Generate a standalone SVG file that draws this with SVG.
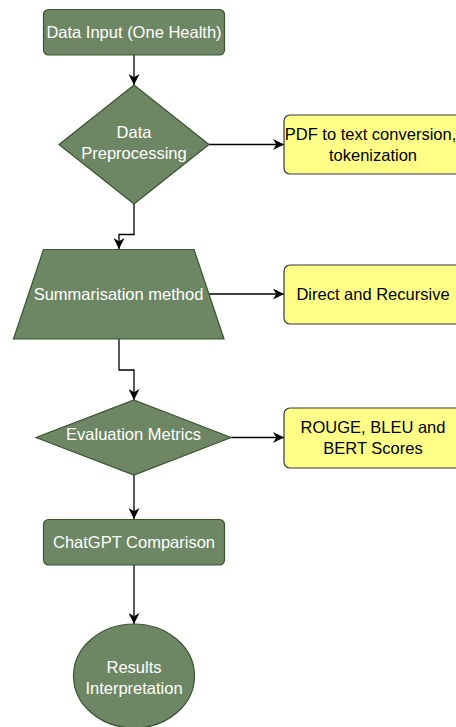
<svg xmlns="http://www.w3.org/2000/svg" width="456" height="727" viewBox="0 0 456 727">
<style>
.g{fill:#6d8764;stroke:#3a5431;stroke-width:1.2}
.y{fill:#ffff88;stroke:#36393d;stroke-width:1.2}
.tw{font-family:"Liberation Sans",Arial,Helvetica,sans-serif;font-size:16.5px;fill:#ffffff;text-anchor:middle}
.tb{font-family:"Liberation Sans",Arial,Helvetica,sans-serif;font-size:16.5px;fill:#000000;text-anchor:middle}
.c{fill:none;stroke:#000;stroke-width:1.3}
</style>
<defs>
<marker id="arr" markerUnits="userSpaceOnUse" markerWidth="11" markerHeight="11" viewBox="0 0 10 10" refX="10" refY="5" orient="auto">
<path d="M0,0 L10,5 L0,10 L3,5 Z" fill="#000"/>
</marker>
</defs>
<rect width="456" height="727" fill="#ffffff"/>
<g id="connectors">
<path class="c" d="M134,55 V85" marker-end="url(#arr)"/>
<path class="c" d="M209,144.5 H284" marker-end="url(#arr)"/>
<path class="c" d="M134,204 V234.5 H119 V249" marker-end="url(#arr)"/>
<path class="c" d="M209,294 H284" marker-end="url(#arr)"/>
<path class="c" d="M119,339 V370 H134 V400" marker-end="url(#arr)"/>
<path class="c" d="M231,437.5 H284" marker-end="url(#arr)"/>
<path class="c" d="M134,475 V519" marker-end="url(#arr)"/>
<path class="c" d="M134,565 V624" marker-end="url(#arr)"/>
</g>
<g id="data-input">
<rect class="g" x="43.5" y="9.5" width="181" height="45.5" rx="5"/>
<text class="tw" x="134" y="38">Data Input (One Health)</text>
</g>
<g id="data-preprocessing">
<path class="g" d="M134,85 L209,144.5 L134,204 L59,144.5 Z"/>
<text class="tw" x="134" y="138">Data</text>
<text class="tw" x="134" y="159">Preprocessing</text>
</g>
<g id="pdf-box">
<rect class="y" x="284" y="115" width="178" height="59" rx="6"/>
<text class="tb" x="370.5" y="140" font-size="16.2">PDF to text conversion,</text>
<text class="tb" x="373" y="161">tokenization</text>
</g>
<g id="summarisation">
<path class="g" d="M43.5,249.5 H194 L224,339 H13.5 Z"/>
<text class="tw" x="118.5" y="300">Summarisation method</text>
</g>
<g id="direct-box">
<rect class="y" x="284" y="265" width="178" height="59" rx="6"/>
<text class="tb" x="373" y="300">Direct and Recursive</text>
</g>
<g id="evaluation">
<path class="g" d="M134,400 L231,437.5 L134,475 L36,437.5 Z"/>
<text class="tw" x="133.5" y="440">Evaluation Metrics</text>
</g>
<g id="scores-box">
<rect class="y" x="284" y="408" width="178" height="60" rx="6"/>
<text class="tb" x="373" y="433">ROUGE, BLEU and</text>
<text class="tb" x="373" y="454">BERT Scores</text>
</g>
<g id="chatgpt">
<rect class="g" x="43.5" y="519.5" width="181" height="45.5" rx="5"/>
<text class="tw" x="134" y="548">ChatGPT Comparison</text>
</g>
<g id="results">
<ellipse class="g" cx="134" cy="676" rx="60.5" ry="52"/>
<text class="tw" x="134" y="673">Results</text>
<text class="tw" x="134" y="694">Interpretation</text>
</g>
</svg>
